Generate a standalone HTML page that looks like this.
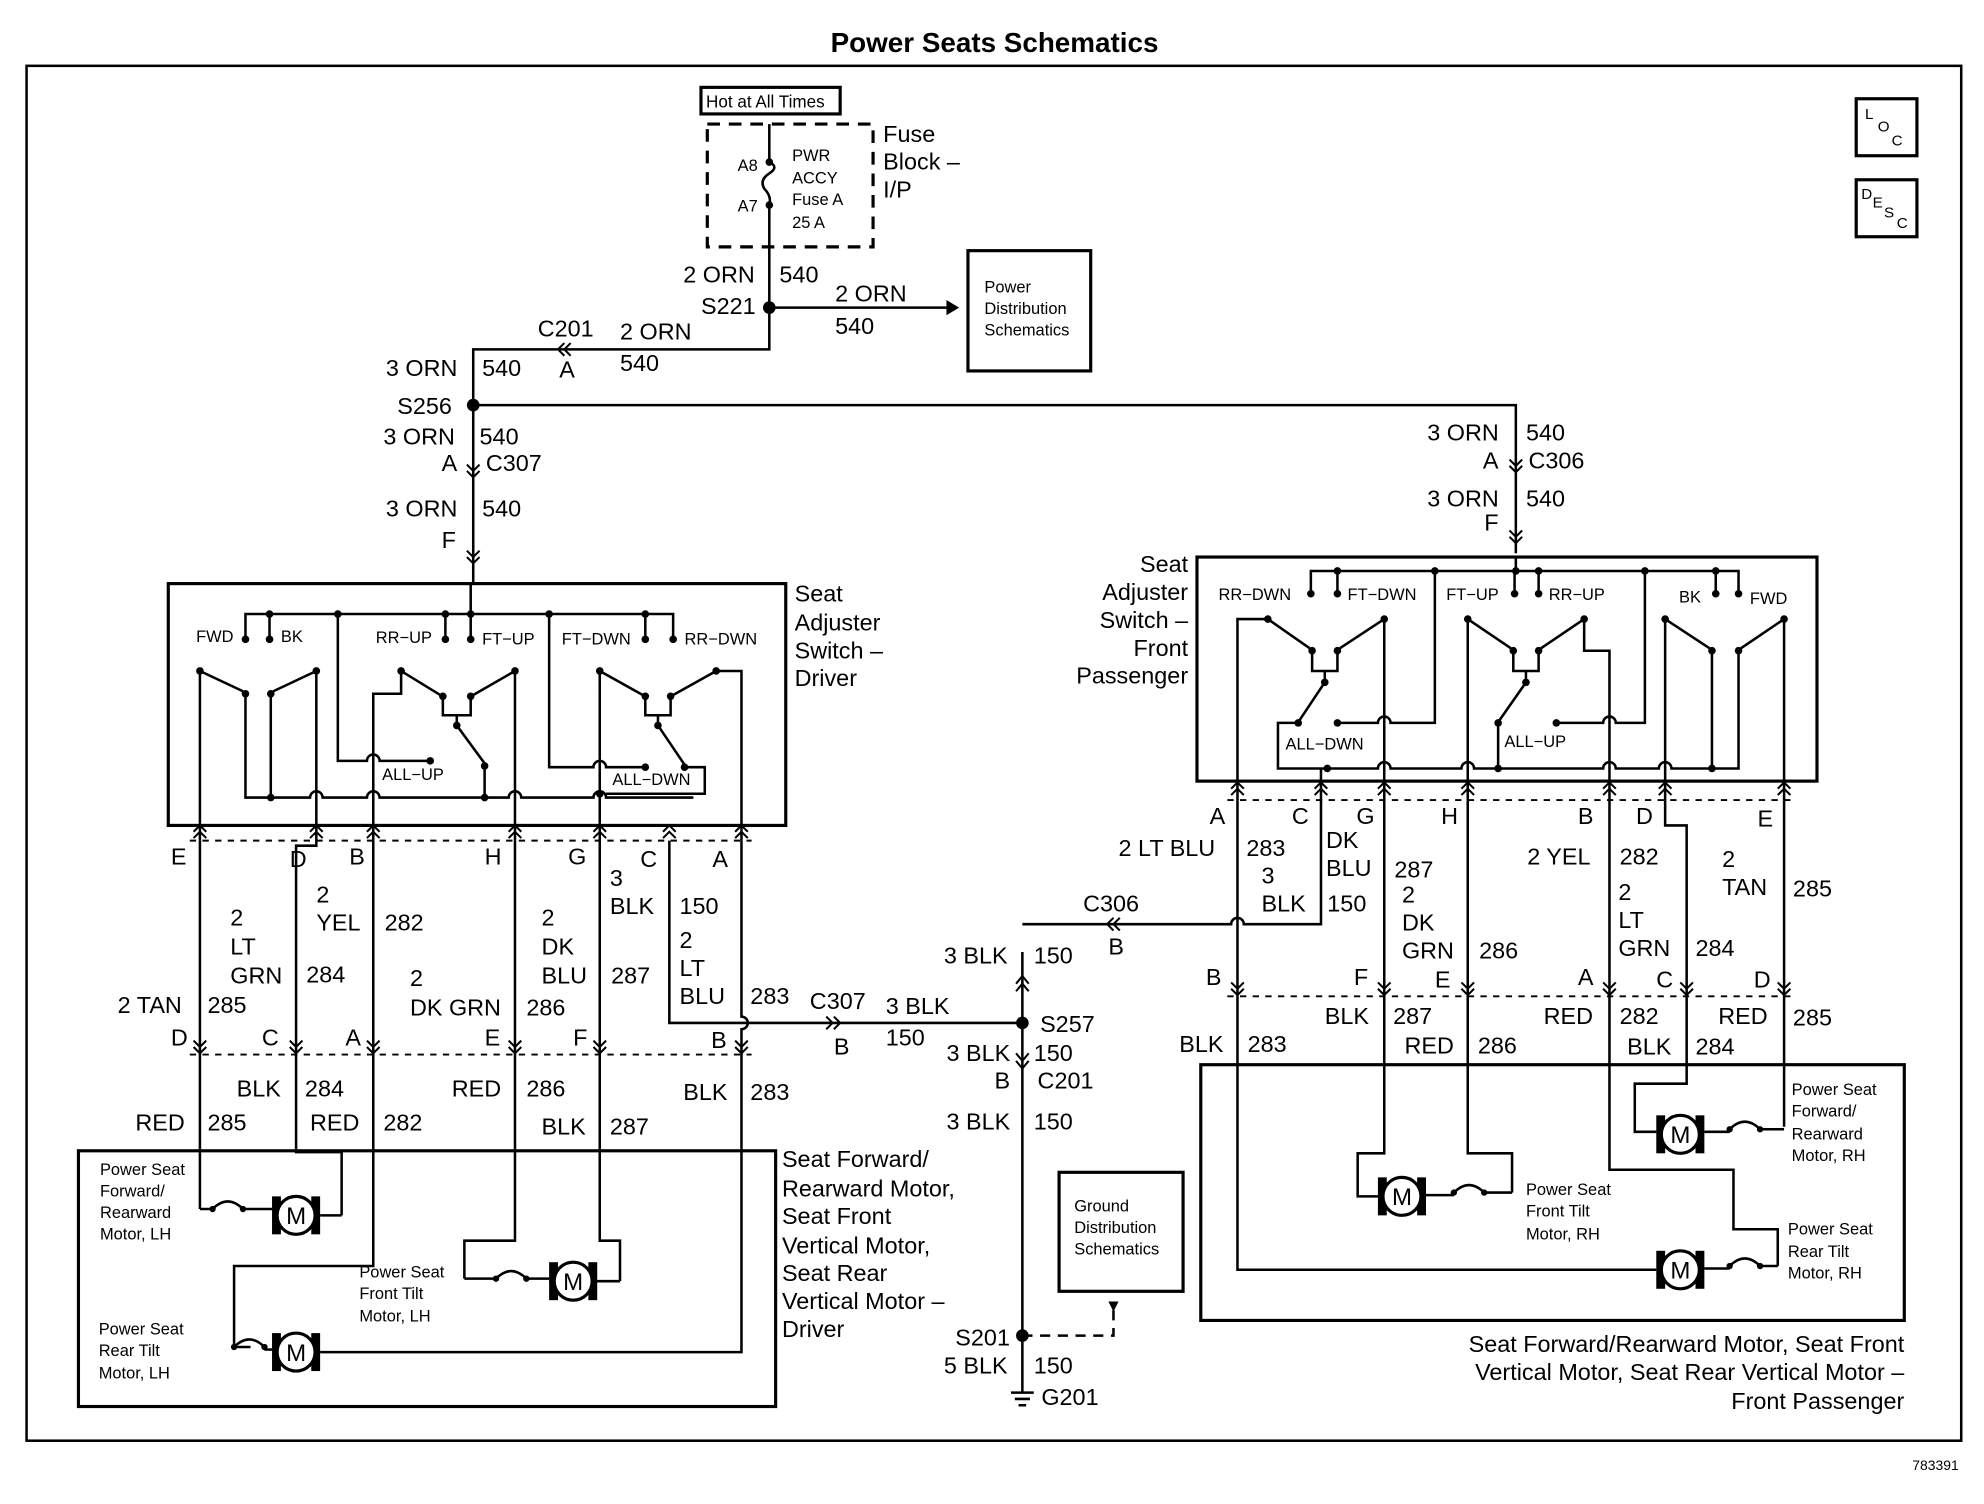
<!DOCTYPE html>
<html><head><meta charset="utf-8"><style>
html,body{margin:0;padding:0;background:#fff;}
svg{display:block;}
text{font-family:"Liberation Sans",Arial,sans-serif;fill:#000;}
</style></head><body>
<svg width="1984" height="1504" viewBox="0 0 1568 1188" preserveAspectRatio="none" xmlns="http://www.w3.org/2000/svg">
<defs>
<g id="cu"><path d="M-5,6 L0,1 L5,6 M-5,11 L0,6 L5,11" fill="none" stroke="#000" stroke-width="1.6"/></g>
<g id="cd"><path d="M-5,-6 L0,-1 L5,-6 M-5,-11 L0,-6 L5,-11" fill="none" stroke="#000" stroke-width="1.6"/></g>
<g id="cl"><path d="M6,-5 L1,0 L6,5 M11,-5 L6,0 L11,5" fill="none" stroke="#000" stroke-width="1.6"/></g>
<g id="mot"><rect x="-19" y="-15" width="7" height="30"/><rect x="12" y="-15" width="7" height="30"/><circle r="15" fill="#fff" stroke="#000" stroke-width="2.5"/><text x="0" y="7" font-size="19" text-anchor="middle">M</text></g>
<g id="sq"><path d="M0,0 q12,-12 24,0" fill="none" stroke="#000" stroke-width="2"/><circle r="2.5"/><circle cx="24" r="2.5"/></g>
</defs>
<rect width="1568" height="1188" fill="#fff"/>
<text x="786" y="41" font-size="22" font-weight="bold" text-anchor="middle">Power Seats Schematics</text>
<rect x="21" y="52" width="1529" height="1086" fill="none" stroke="#000" stroke-width="2"/>
<text x="1548" y="1161" font-size="11" text-anchor="end">783391</text>
<rect x="1467" y="78" width="48" height="45" fill="none" stroke="#000" stroke-width="2.5"/>
<text x="1474" y="94" font-size="12">L</text><text x="1484" y="104" font-size="12">O</text><text x="1495" y="115" font-size="12">C</text>
<rect x="1467" y="142" width="48" height="45" fill="none" stroke="#000" stroke-width="2.5"/>
<text x="1471" y="157" font-size="12">D</text><text x="1480" y="164" font-size="12">E</text><text x="1489" y="172" font-size="12">S</text><text x="1499" y="180" font-size="12">C</text>

<g stroke="#000" stroke-width="2" fill="none">
<rect x="554" y="69" width="110" height="21" stroke-width="2.5"/>
<rect x="559" y="98" width="131" height="97" stroke-dasharray="10,7" stroke-width="2.5"/>
<path d="M608,98 V128 M608,162 V276 H374 V460 M608,243 H748"/>
<path d="M608,128 q8,4 0,9 q-8,5 -4,12 q6,6 4,13"/>
<path d="M374,320 H1198 V437"/>
<rect x="765" y="198" width="97" height="95" stroke-width="2.5"/>
<rect x="133" y="461" width="488" height="191" stroke-width="2.5"/>
<path d="M372,461 V485 M194,505 V485 H532 V505 M213,505 V485 M352,505 V485 M372,505 V485 M510,505 V485"/>
<path d="M267,485 V601 H290 a5,5 0 0 1 10,0 H340"/>
<path d="M434,485 V606 H469 a5,5 0 0 1 10,0 H510"/>
<path d="M158,530 L192,546 M250,530 L216,546 M194,548 V630 H245 a5,5 0 0 1 10,0 H290 a5,5 0 0 1 10,0 H402 a5,5 0 0 1 10,0 H469 a5,5 0 0 1 10,0 H548"/>
<path d="M158,530 V664 M250,530 V664 M214,548 V630"/>
<path d="M295,664 V548 H317 V530 L348,549 M407,530 L374,549 M407,530 V664 M350,550 V565 H372 V550 M361,565 V573 L383,603 M383,605 V630"/>
<path d="M474,530 V664 M474,530 L508,549 M566,530 L532,549 M566,530 H586 V664 M510,550 V565 H530 V550 M520,565 V573 L541,604 M541,606 H557 V627 H479"/>
<rect x="946" y="440" width="490" height="177" stroke-width="2.5"/>
<path d="M1198,440 V451 M1036,469 V451 H1356 V469 M1057,469 V451 M1197,469 V451 M1216,469 V451 M1374,469 V451 H1356"/>
<path d="M1134,451 V571 H1099 a5,5 0 0 0 -10,0 H1057"/>
<path d="M1300,451 V571 H1277 a5,5 0 0 0 -10,0 H1230"/>
<path d="M1002,489 L1035,512 M1002,489 H978 V632 M1094,489 L1059,512 M1094,489 V632 M1037,514 V530 H1057 V514 M1047,530 V539 L1027,569 M1026,571 H1010 V607 H1089 a5,5 0 0 1 10,0 H1155 a5,5 0 0 1 10,0 H1267 a5,5 0 0 1 10,0 H1311 a5,5 0 0 1 10,0 H1374 V514"/>
<path d="M1044,607 V632"/>
<path d="M1160,489 L1194,512 M1160,489 V632 M1252,489 L1218,512 M1252,489 V514 H1272 V632 M1196,514 V530 H1216 V514 M1206,530 V539 L1185,569 M1184,571 V607"/>
<path d="M1316,489 L1351,512 M1316,489 V632 M1410,489 L1376,512 M1410,489 V632 M1353,514 V607"/>
<path d="M150,664 H594 M150,833 H594 M970,632 H1418 M970,787 H1418" stroke-dasharray="5,5" stroke-width="1.5"/>
<path d="M158,664 V955 M234,833 V910 H270 V960 M295,664 V1000 H185 V1064 M407,664 V980 H367 V1010 M474,664 V980 H490 V1012 M529,664 V808 H808 M586,664 V803 a5,5 0 0 1 0,10 V1068 H253"/>
<path d="M250,664 V668 H234 V833"/>
<path d="M158,955 H168 M434,1012 H472 M472,1012 H490 M367,1010 H392 M185,1064 H198 M270,960 H253"/>
<rect x="62" y="909" width="551" height="202" stroke-width="2.5"/>
<path d="M808,752 V1100 M808,730 H973 a5,5 0 0 1 10,0 H1044 V632 M978,632 V787" />
<path d="M808,1055 H880 V1035" stroke-dasharray="8,6"/>
<rect x="837" y="926" width="98" height="94" stroke-width="2.5"/>
<path d="M978,787 V1003 H1309 M1094,632 V911 H1073 V945 H1089 M1160,632 V911 H1195 V942 M1272,632 V924 H1370 V971 H1405 V1000 M1316,632 V652 H1333 V856 H1292 V894 H1309 M1410,632 V890"/>
<rect x="949" y="841" width="556" height="202" stroke-width="2.5"/>
</g>
<g>
<use href="#cd" x="374" y="378"/><use href="#cd" x="374" y="446"/><use href="#cd" x="1198" y="374"/><use href="#cd" x="1198" y="430"/>
<use href="#cl" x="440" y="276"/><use href="#cl" x="874" y="730"/>
<use href="#cu" x="158" y="651"/><use href="#cu" x="250" y="651"/><use href="#cu" x="295" y="651"/><use href="#cu" x="407" y="651"/><use href="#cu" x="474" y="651"/><use href="#cu" x="529" y="651"/><use href="#cu" x="586" y="651"/>
<use href="#cd" x="158" y="833"/><use href="#cd" x="234" y="833"/><use href="#cd" x="295" y="833"/><use href="#cd" x="407" y="833"/><use href="#cd" x="474" y="833"/><use href="#cd" x="586" y="833"/>
<use href="#cu" x="978" y="617"/><use href="#cu" x="1044" y="617"/><use href="#cu" x="1094" y="617"/><use href="#cu" x="1160" y="617"/><use href="#cu" x="1272" y="617"/><use href="#cu" x="1316" y="617"/><use href="#cu" x="1410" y="617"/>
<use href="#cd" x="978" y="787"/><use href="#cd" x="1094" y="787"/><use href="#cd" x="1160" y="787"/><use href="#cd" x="1272" y="787"/><use href="#cd" x="1333" y="787"/><use href="#cd" x="1410" y="787"/>
<path d="M748,237 L758,243 L748,249 Z"/>
<path d="M653,803 L658,808 L653,813 M659,803 L664,808 L659,813" stroke="#000" stroke-width="1.6" fill="none"/>
<path d="M808,771 l-5,6 M808,771 l5,6 M808,777 l-5,6 M808,777 l5,6 M808,844 l-5,-6 M808,844 l5,-6 M808,838 l-5,-6 M808,838 l5,-6" stroke="#000" stroke-width="1.6"/>
<path d="M876,1028 L884,1028 L880,1036 Z"/>
<path d="M799,1100 H817 M802,1105 H814 M805,1110 H811" stroke="#000" stroke-width="2"/>
</g>
<g>
<circle cx="608" cy="243" r="5"/><circle cx="374" cy="320" r="5"/><circle cx="808" cy="808" r="5"/><circle cx="808" cy="1055" r="5"/>
<circle cx="608" cy="128" r="3"/><circle cx="608" cy="162" r="3"/>
<circle cx="213" cy="485" r="3"/><circle cx="267" cy="485" r="3"/><circle cx="352" cy="485" r="3"/><circle cx="372" cy="485" r="3"/><circle cx="434" cy="485" r="3"/><circle cx="510" cy="485" r="3"/>
<circle cx="194" cy="505" r="3"/><circle cx="213" cy="505" r="3"/><circle cx="352" cy="505" r="3"/><circle cx="372" cy="505" r="3"/><circle cx="510" cy="505" r="3"/><circle cx="532" cy="505" r="3"/>
<circle cx="158" cy="530" r="3"/><circle cx="250" cy="530" r="3"/><circle cx="194" cy="548" r="3"/><circle cx="214" cy="548" r="3"/><circle cx="317" cy="530" r="3"/><circle cx="407" cy="530" r="3"/><circle cx="350" cy="550" r="3"/><circle cx="372" cy="550" r="3"/><circle cx="361" cy="573" r="3"/><circle cx="383" cy="605" r="3"/><circle cx="340" cy="601" r="3"/><circle cx="214" cy="630" r="3"/><circle cx="383" cy="630" r="3"/>
<circle cx="474" cy="530" r="3"/><circle cx="566" cy="530" r="3"/><circle cx="510" cy="550" r="3"/><circle cx="530" cy="550" r="3"/><circle cx="520" cy="573" r="3"/><circle cx="541" cy="606" r="3"/><circle cx="510" cy="606" r="3"/><circle cx="474" cy="627" r="3"/>
<circle cx="1057" cy="451" r="3"/><circle cx="1134" cy="451" r="3"/><circle cx="1198" cy="451" r="3"/><circle cx="1216" cy="451" r="3"/><circle cx="1300" cy="451" r="3"/><circle cx="1356" cy="451" r="3"/>
<circle cx="1036" cy="469" r="3"/><circle cx="1057" cy="469" r="3"/><circle cx="1197" cy="469" r="3"/><circle cx="1216" cy="469" r="3"/><circle cx="1356" cy="469" r="3"/><circle cx="1374" cy="469" r="3"/>
<circle cx="1002" cy="489" r="3"/><circle cx="1094" cy="489" r="3"/><circle cx="1037" cy="514" r="3"/><circle cx="1057" cy="514" r="3"/><circle cx="1047" cy="539" r="3"/><circle cx="1026" cy="571" r="3"/><circle cx="1057" cy="571" r="3"/><circle cx="1049" cy="607" r="3"/>
<circle cx="1160" cy="489" r="3"/><circle cx="1252" cy="489" r="3"/><circle cx="1196" cy="514" r="3"/><circle cx="1216" cy="514" r="3"/><circle cx="1206" cy="539" r="3"/><circle cx="1184" cy="571" r="3"/><circle cx="1230" cy="571" r="3"/><circle cx="1184" cy="607" r="3"/>
<circle cx="1316" cy="489" r="3"/><circle cx="1410" cy="489" r="3"/><circle cx="1353" cy="514" r="3"/><circle cx="1374" cy="514" r="3"/><circle cx="1353" cy="607" r="3"/>
</g>
<use href="#mot" x="234" y="960"/><use href="#sq" x="168" y="955"/><path d="M192,955 H215" stroke="#000" stroke-width="2"/>
<use href="#mot" x="453" y="1012"/><use href="#sq" x="392" y="1010"/><path d="M416,1010 H434" stroke="#000" stroke-width="2"/>
<use href="#mot" x="234" y="1068"/><use href="#sq" x="185" y="1064"/><path d="M209,1066 H215" stroke="#000" stroke-width="2"/>
<use href="#mot" x="1108" y="945"/><use href="#sq" x="1149" y="942"/><path d="M1127,944 H1149 M1173,942 H1195" stroke="#000" stroke-width="2"/>
<use href="#mot" x="1328" y="896"/><use href="#sq" x="1367" y="892"/><path d="M1347,894 H1367 M1391,892 H1410" stroke="#000" stroke-width="2"/>
<use href="#mot" x="1328" y="1003"/><use href="#sq" x="1367" y="1000"/><path d="M1347,1002 H1367 M1391,1000 H1405" stroke="#000" stroke-width="2"/>

<g font-size="13">
<text x="558" y="85" font-size="13.5">Hot at All Times</text>
<text x="583" y="135">A8</text><text x="583" y="167">A7</text>
<text x="626" y="127">PWR</text><text x="626" y="145">ACCY</text><text x="626" y="162">Fuse A</text><text x="626" y="180">25 A</text>
<text x="778" y="231">Power</text><text x="778" y="248">Distribution</text><text x="778" y="265">Schematics</text>
<text x="849" y="957">Ground</text><text x="849" y="974">Distribution</text><text x="849" y="991">Schematics</text>
<text x="155" y="507">FWD</text><text x="222" y="507">BK</text><text x="297" y="508">RR−UP</text><text x="381" y="509">FT−UP</text><text x="444" y="509">FT−DWN</text><text x="541" y="509">RR−DWN</text>
<text x="302" y="616">ALL−UP</text><text x="484" y="620">ALL−DWN</text>
<text x="963" y="474">RR−DWN</text><text x="1065" y="474">FT−DWN</text><text x="1143" y="474">FT−UP</text><text x="1224" y="474">RR−UP</text><text x="1327" y="476">BK</text><text x="1383" y="477">FWD</text>
<text x="1016" y="592">ALL−DWN</text><text x="1189" y="590">ALL−UP</text>
<text x="79" y="928">Power Seat</text><text x="79" y="945">Forward/</text><text x="79" y="962">Rearward</text><text x="79" y="979">Motor, LH</text>
<text x="284" y="1009">Power Seat</text><text x="284" y="1026">Front Tilt</text><text x="284" y="1044">Motor, LH</text>
<text x="78" y="1054">Power Seat</text><text x="78" y="1071">Rear Tilt</text><text x="78" y="1089">Motor, LH</text>
<text x="1416" y="865">Power Seat</text><text x="1416" y="882">Forward/</text><text x="1416" y="900">Rearward</text><text x="1416" y="917">Motor, RH</text>
<text x="1206" y="944">Power Seat</text><text x="1206" y="961">Front Tilt</text><text x="1206" y="979">Motor, RH</text>
<text x="1413" y="975">Power Seat</text><text x="1413" y="993">Rear Tilt</text><text x="1413" y="1010">Motor, RH</text>
</g>
<g font-size="18.5">
<text x="698" y="112">Fuse</text><text x="698" y="134">Block –</text><text x="698" y="156">I/P</text>
<text x="540" y="223">2 ORN</text><text x="616" y="223">540</text><text x="554" y="248">S221</text>
<text x="660" y="238">2 ORN</text><text x="660" y="264">540</text>
<text x="425" y="266">C201</text><text x="490" y="268">2 ORN</text><text x="442" y="298">A</text><text x="490" y="293">540</text>
<text x="305" y="297">3 ORN</text><text x="381" y="297">540</text><text x="314" y="327">S256</text>
<text x="303" y="351">3 ORN</text><text x="379" y="351">540</text><text x="349" y="372">A</text><text x="384" y="372">C307</text>
<text x="305" y="408">3 ORN</text><text x="381" y="408">540</text><text x="349" y="433">F</text>
<text x="1128" y="348">3 ORN</text><text x="1206" y="348">540</text><text x="1172" y="370">A</text><text x="1208" y="370">C306</text>
<text x="1128" y="400">3 ORN</text><text x="1206" y="400">540</text><text x="1173" y="419">F</text>
<text x="628" y="475">Seat</text><text x="628" y="498">Adjuster</text><text x="628" y="520">Switch –</text><text x="628" y="542">Driver</text>
<text x="939" y="452" text-anchor="end">Seat</text><text x="939" y="474" text-anchor="end">Adjuster</text><text x="939" y="496" text-anchor="end">Switch –</text><text x="939" y="518" text-anchor="end">Front</text><text x="939" y="540" text-anchor="end">Passenger</text>
<text x="135" y="683">E</text><text x="229" y="685">D</text><text x="276" y="683">B</text><text x="383" y="683">H</text><text x="449" y="683">G</text><text x="506" y="685">C</text><text x="563" y="685">A</text>
<text x="182" y="731">2</text><text x="182" y="754">LT</text><text x="182" y="777">GRN</text><text x="242" y="776">284</text>
<text x="250" y="713">2</text><text x="250" y="735">YEL</text><text x="304" y="735">282</text>
<text x="93" y="800">2 TAN</text><text x="164" y="800">285</text>
<text x="324" y="779">2</text><text x="324" y="802">DK GRN</text><text x="416" y="802">286</text>
<text x="428" y="731">2</text><text x="428" y="754">DK</text><text x="428" y="777">BLU</text><text x="483" y="777">287</text>
<text x="482" y="700">3</text><text x="482" y="722">BLK</text><text x="537" y="722">150</text>
<text x="537" y="749">2</text><text x="537" y="771">LT</text><text x="537" y="793">BLU</text><text x="593" y="793">283</text>
<text x="640" y="797">C307</text><text x="700" y="801">3 BLK</text><text x="659" y="833">B</text><text x="700" y="826">150</text>
<text x="135" y="826">D</text><text x="207" y="826">C</text><text x="273" y="826">A</text><text x="383" y="826">E</text><text x="453" y="826">F</text><text x="562" y="828">B</text>
<text x="187" y="866">BLK</text><text x="241" y="866">284</text><text x="357" y="866">RED</text><text x="416" y="866">286</text><text x="540" y="869">BLK</text><text x="593" y="869">283</text>
<text x="107" y="893">RED</text><text x="164" y="893">285</text><text x="245" y="893">RED</text><text x="303" y="893">282</text><text x="428" y="896">BLK</text><text x="482" y="896">287</text>
<text x="618" y="922">Seat Forward/</text><text x="618" y="945">Rearward Motor,</text><text x="618" y="967">Seat Front</text><text x="618" y="990">Vertical Motor,</text><text x="618" y="1012">Seat Rear</text><text x="618" y="1034">Vertical Motor –</text><text x="618" y="1056">Driver</text>
<text x="746" y="761">3 BLK</text><text x="817" y="761">150</text><text x="822" y="815">S257</text>
<text x="748" y="838">3 BLK</text><text x="817" y="838">150</text><text x="786" y="860">B</text><text x="820" y="860">C201</text>
<text x="748" y="892">3 BLK</text><text x="817" y="892">150</text>
<text x="755" y="1063">S201</text><text x="746" y="1085">5 BLK</text><text x="817" y="1085">150</text><text x="823" y="1110">G201</text>
<text x="856" y="720">C306</text><text x="876" y="754">B</text>
<text x="956" y="651">A</text><text x="1021" y="651">C</text><text x="1072" y="651">G</text><text x="1139" y="651">H</text><text x="1247" y="651">B</text><text x="1293" y="651">D</text><text x="1389" y="653">E</text>
<text x="884" y="676">2 LT BLU</text><text x="985" y="676">283</text>
<text x="997" y="698">3</text><text x="997" y="720">BLK</text><text x="1049" y="720">150</text>
<text x="1048" y="670">DK</text><text x="1048" y="692">BLU</text>
<text x="1102" y="693">287</text><text x="1108" y="713">2</text><text x="1108" y="735">DK</text><text x="1108" y="757">GRN</text><text x="1169" y="757">286</text>
<text x="1207" y="683">2 YEL</text><text x="1280" y="683">282</text>
<text x="1279" y="711">2</text><text x="1279" y="733">LT</text><text x="1279" y="755">GRN</text><text x="1340" y="755">284</text>
<text x="1361" y="685">2</text><text x="1361" y="707">TAN</text><text x="1417" y="708">285</text>
<text x="953" y="778">B</text><text x="1070" y="778">F</text><text x="1134" y="780">E</text><text x="1247" y="778">A</text><text x="1309" y="780">C</text><text x="1386" y="780">D</text>
<text x="1047" y="809">BLK</text><text x="1101" y="809">287</text><text x="1220" y="809">RED</text><text x="1280" y="809">282</text><text x="1358" y="809">RED</text><text x="1417" y="810">285</text>
<text x="932" y="831">BLK</text><text x="986" y="831">283</text><text x="1110" y="832">RED</text><text x="1168" y="832">286</text><text x="1286" y="833">BLK</text><text x="1340" y="833">284</text>
<text x="1505" y="1068" text-anchor="end">Seat Forward/Rearward Motor, Seat Front</text>
<text x="1505" y="1090" text-anchor="end">Vertical Motor, Seat Rear Vertical Motor –</text>
<text x="1505" y="1113" text-anchor="end">Front Passenger</text>
</g>
</svg>
</body></html>
